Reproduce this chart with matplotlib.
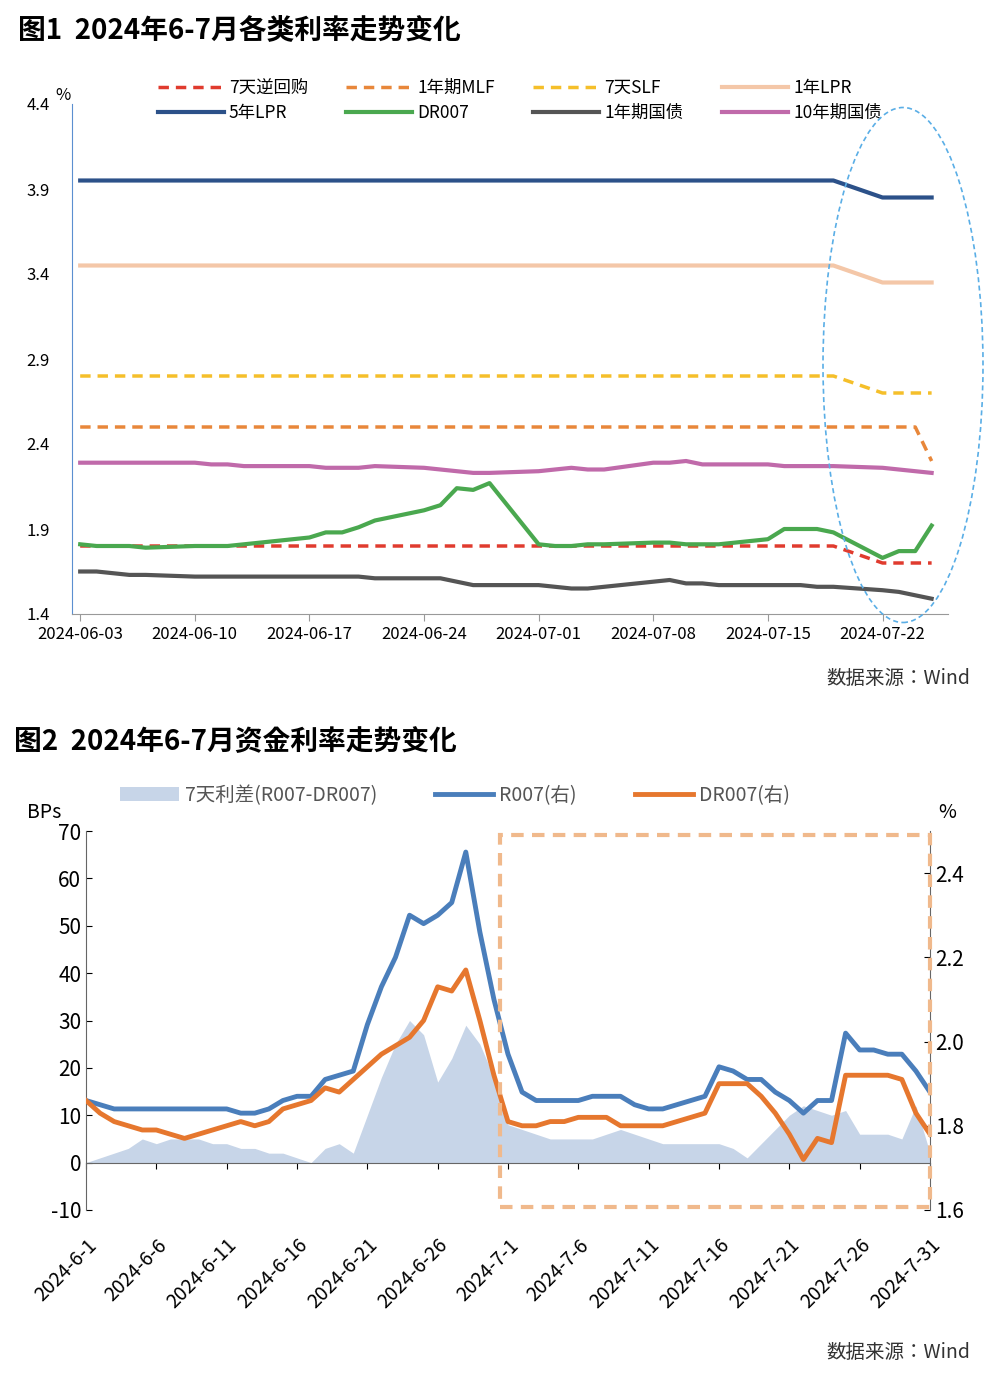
import matplotlib
matplotlib.use("Agg")
import matplotlib.pyplot as plt
import matplotlib.dates as mdates
from matplotlib import font_manager
from matplotlib.patches import Ellipse, Rectangle
import pandas as pd

names = {f.name for f in font_manager.fontManager.ttflist}
cjk = [n for n in ['Noto Sans CJK SC', 'Noto Sans CJK JP', 'Noto Sans CJK TC', 'Noto Sans CJK KR',
                   'Noto Sans SC', 'Noto Sans CJK'] if n in names]
if not cjk:
    cjk = [n for n in names if 'CJK' in n or 'SC' in n][:1]
plt.rcParams['font.family'] = cjk + ['DejaVu Sans']
plt.rcParams['axes.unicode_minus'] = False

# ---------- Chart 1 data (business days 2024-06-03 .. 2024-07-25) ----------
dates1 = pd.bdate_range('2024-06-03', '2024-07-25')
rev_repo = [1.8]*35 + [1.7]*4
mlf = [2.5]*38 + [2.3]
slf = [2.8]*35 + [2.7]*4
lpr1 = [3.45]*35 + [3.35]*4
lpr5 = [3.95]*35 + [3.85]*4
dr007_1 = [1.81,1.80,1.80,1.80,1.79, 1.80,1.80,1.80,1.81,1.82, 1.85,1.88,1.88,1.91,1.95,
           2.01,2.04,2.14,2.13,2.17, 1.81,1.80,1.80,1.81,1.81, 1.82,1.82,1.81,1.81,1.81,
           1.84,1.90,1.90,1.90,1.88, 1.73,1.77,1.77,1.92]
gov1 = [1.65,1.65,1.64,1.63,1.63, 1.62,1.62,1.62,1.62,1.62, 1.62,1.62,1.62,1.62,1.61,
        1.61,1.61,1.59,1.57,1.57, 1.57,1.56,1.55,1.55,1.56, 1.59,1.60,1.58,1.58,1.57,
        1.57,1.57,1.57,1.56,1.56, 1.54,1.53,1.51,1.49]
gov10 = [2.29,2.29,2.29,2.29,2.29, 2.29,2.28,2.28,2.27,2.27, 2.27,2.26,2.26,2.26,2.27,
         2.26,2.25,2.24,2.23,2.23, 2.24,2.25,2.26,2.25,2.25, 2.29,2.29,2.30,2.28,2.28,
         2.28,2.27,2.27,2.27,2.27, 2.26,2.25,2.24,2.23]
ticks1 = pd.date_range('2024-06-03', '2024-07-22', freq='7D')

# ---------- Chart 2 data (calendar days 2024-06-01 .. 2024-07-31) ----------
dates2 = pd.date_range('2024-06-01', '2024-07-31')
spread = [0,1,2,3,5,4,5,5,5,4,4,3,3,2,2,1,0,3,4,2,10,18,25,30,27,17,22,29,25,18,
          8,7,6,5,5,5,5,6,7,6,5,4,4,4,4,4,3,1,4,7,10,12,11,10,11,6,6,6,5,12,2]
r007 = [1.86,1.85,1.84,1.84,1.84,1.84,1.84,1.84,1.84,1.84,1.84,1.83,1.83,1.84,1.86,1.87,
        1.87,1.91,1.92,1.93,2.04,2.13,2.20,2.30,2.28,2.30,2.33,2.45,2.26,2.10,
        1.97,1.88,1.86,1.86,1.86,1.86,1.87,1.87,1.87,1.85,1.84,1.84,1.85,1.86,1.87,
        1.94,1.93,1.91,1.91,1.88,1.86,1.83,1.86,1.86,2.02,1.98,1.98,1.97,1.97,1.93,1.88]
dr007_2 = [1.86,1.83,1.81,1.80,1.79,1.79,1.78,1.77,1.78,1.79,1.80,1.81,1.80,1.81,1.84,1.85,
           1.86,1.89,1.88,1.91,1.94,1.97,1.99,2.01,2.05,2.13,2.12,2.17,2.05,1.92,
           1.81,1.80,1.80,1.81,1.81,1.82,1.82,1.82,1.80,1.80,1.80,1.80,1.81,1.82,1.83,
           1.90,1.90,1.90,1.87,1.83,1.78,1.72,1.77,1.76,1.92,1.92,1.92,1.92,1.91,1.83,1.78]
ticks2 = pd.date_range('2024-06-01', '2024-07-31', freq='5D')

fig = plt.figure(figsize=(10, 13.8), dpi=100)

# ---------- Chart 1 ----------
fig.text(0.018, 1-30/1380, '图1  2024年6-7月各类利率走势变化', fontsize=20, fontweight='bold',
         va='center', ha='left')
ax1 = fig.add_axes([0.072, 1-614/1380, 0.876, 510/1380])
h = {}
h['a'], = ax1.plot(dates1, rev_repo, color='#e03b2e', lw=2.5, ls=(0, (3, 2)), label='7天逆回购')
h['b'], = ax1.plot(dates1, mlf, color='#e8873a', lw=2.5, ls=(0, (3, 2)), label='1年期MLF')
h['c'], = ax1.plot(dates1, slf, color='#f5bf2a', lw=2.5, ls=(0, (3, 2)), label='7天SLF')
h['d'], = ax1.plot(dates1, lpr1, color='#f4c7a8', lw=3, label='1年LPR')
h['e'], = ax1.plot(dates1, lpr5, color='#2c5189', lw=3, label='5年LPR')
h['f'], = ax1.plot(dates1, dr007_1, color='#4aa84f', lw=3, label='DR007')
h['g'], = ax1.plot(dates1, gov1, color='#555555', lw=3, label='1年期国债')
h['h'], = ax1.plot(dates1, gov10, color='#c06aaa', lw=3, label='10年期国债')
ax1.set_ylim(1.4, 4.4)
ax1.set_yticks([1.4, 1.9, 2.4, 2.9, 3.4, 3.9, 4.4])
ax1.set_yticklabels(['1.4', '1.9', '2.4', '2.9', '3.4', '3.9', '4.4'])
ax1.set_xlim(pd.Timestamp('2024-06-02 12:00'), pd.Timestamp('2024-07-26'))
ax1.set_xticks(ticks1)
ax1.xaxis.set_major_formatter(mdates.DateFormatter('%Y-%m-%d'))
ax1.tick_params(axis='y', length=0, labelsize=12, pad=16)
ax1.tick_params(axis='x', length=5, labelsize=12, color='#999999')
for s in ['top', 'right']:
    ax1.spines[s].set_visible(False)
ax1.spines['left'].set_color('#5b8fd0')
ax1.spines['bottom'].set_color('#999999')
ax1.text(-0.01, 1.0, '%', transform=ax1.transAxes, fontsize=12, ha='center', va='bottom')
order = ['a', 'e', 'b', 'f', 'c', 'g', 'd', 'h']
ax1.legend([h[k] for k in order], [h[k].get_label() for k in order], ncol=4, loc='upper left',
           bbox_to_anchor=(0.08, 1.08), frameon=False, fontsize=12.5,
           handlelength=3.8, columnspacing=2.2, handletextpad=0.3, labelspacing=0.4)
fig.text(0.97, 1-678/1380, '数据来源：Wind', fontsize=14, ha='right', va='center', color='#333333')
fig.add_artist(Ellipse((903/1000, 1-365/1380), 160/1000, 515/1380, transform=fig.transFigure,
                       fill=False, ls=(0, (3, 2)), color='#5aaee6', lw=1.2))

# ---------- Chart 2 ----------
fig.text(0.014, 1-742/1380, '图2  2024年6-7月资金利率走势变化', fontsize=20, fontweight='bold',
         va='center', ha='left')
ax2 = fig.add_axes([0.086, 1-1210/1380, 0.844, 379/1380])
ax2.fill_between(dates2, 0, spread, color='#c7d5e8', lw=0, label='7天利差(R007-DR007)')
ax2.set_ylim(-10, 70)
ax2.set_yticks(range(-10, 71, 10))
ax2.set_yticklabels(['-10', '0', '10', '20', '30', '40', '50', '60', '70'])
ax3 = ax2.twinx()
l1, = ax3.plot(dates2, r007, color='#4a7ebb', lw=3.5, label='R007(右)')
l2, = ax3.plot(dates2, dr007_2, color='#e6772e', lw=3.5, label='DR007(右)')
ax3.set_ylim(1.6, 2.5)
ax3.set_yticks([1.6, 1.8, 2.0, 2.2, 2.4])
ax3.set_yticklabels(['1.6', '1.8', '2.0', '2.2', '2.4'])
ax2.set_xlim(pd.Timestamp('2024-06-01'), pd.Timestamp('2024-07-31'))
ax2.set_xticks(ticks2)
ax2.set_xticklabels([f'{d.year}-{d.month}-{d.day}' for d in ticks2])
ax2.spines['top'].set_visible(False)
ax3.spines['top'].set_visible(False)
ax3.spines['left'].set_visible(False)
ax2.spines['right'].set_visible(False)
ax2.spines['left'].set_color('#666666')
ax3.spines['right'].set_color('#666666')
ax3.spines['bottom'].set_visible(False)
ax2.spines['bottom'].set_position(('data', 0))
ax2.spines['bottom'].set_color('#666666')
ax2.tick_params(axis='y', labelsize=15, length=4, direction='in')
ax3.tick_params(axis='y', labelsize=15, length=4, direction='in')
ax2.tick_params(axis='x', labelsize=14, length=4, pad=48)
ax2.text(-0.05, 1.02, 'BPs', transform=ax2.transAxes, fontsize=14, ha='center', va='bottom')
ax3.text(1.02, 1.02, '%', transform=ax3.transAxes, fontsize=14, ha='center', va='bottom')
h0, lab0 = ax2.get_legend_handles_labels()
ax3.legend(h0 + [l1, l2], lab0 + ['R007(右)', 'DR007(右)'], ncol=3, loc='lower left',
           bbox_to_anchor=(0.02, 1.02), frameon=False, fontsize=14, handlelength=3,
           columnspacing=3, handletextpad=0.3, labelcolor='#555555')
fig.text(0.97, 1-1352/1380, '数据来源：Wind', fontsize=14, ha='right', va='center', color='#333333')
fig.add_artist(Rectangle((500/1000, 1-1207/1380), 430/1000, 372/1380, transform=fig.transFigure,
                         fill=False, ls=(0, (3, 2)), color='#f0b98c', lw=3))
for t in ax2.get_xticklabels():
    t.set_rotation(45)
    t.set_ha('right')
    t.set_rotation_mode('anchor')

fig.savefig('out.png', dpi=100)
